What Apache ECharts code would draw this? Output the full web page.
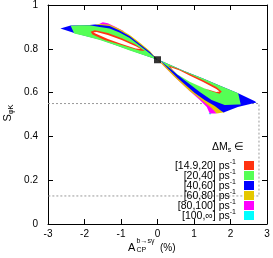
<!DOCTYPE html>
<html><head><meta charset="utf-8">
<script src="https://cdn.jsdelivr.net/npm/echarts@6/dist/echarts.min.js"></script>
<style>html,body{margin:0;padding:0;background:#fff}#c{width:273px;height:258px}</style>
</head><body><div id="c"></div>
<script>
// ---- data (A_CP in %, S_phiK) ----
const legendLabels = ['[14.9,20]', '[20,40]', '[40,60]', '[60,80]', '[80,100]', '[100,\u221e]'];
const bandColors = ['#ff3311', '#55ff55', '#0000ff', '#e5c800', '#ff00ff', '#00ffff'];
const xTickValues = [-3, -2, -1, 0, 1, 2, 3];
const yTickLabels = ['0', '0.2', '0.4', '0.6', '0.8', '1'];

// [100,inf] region (tiny sliver at lower tip)
const cyanLower = [[1.40,0.507],[1.44,0.499],[1.48,0.507]];
// [80,100]
const magentaUpper = [[-1.63,0.911],[-1.50,0.921],[-1.36,0.917],[-1.17,0.902],[-1.04,0.890],[-0.90,0.879],[-1.04,0.880],[-1.31,0.900],[-1.58,0.906]];
const magentaLower = [[0,0.75],[0.47,0.671],[0.88,0.607],[1.16,0.566],[1.35,0.534],[1.43,0.505],[1.62,0.505],[1.48,0.539],[1.02,0.603],[0.33,0.703]];
// [60,80]
const yellowUpper = [[-1.72,0.910],[-1.58,0.913],[-1.31,0.910],[-1.04,0.890],[-0.76,0.863],[-0.49,0.829],[-0.21,0.790],[0,0.75],[-0.21,0.781],[-0.76,0.852],[-1.31,0.900],[-1.67,0.904]];
const yellowLower = [[0,0.75],[0.47,0.671],[0.88,0.607],[1.05,0.587],[1.24,0.562],[1.48,0.530],[1.62,0.505],[1.84,0.510],[1.70,0.539],[1.02,0.612],[0.33,0.712]];
// [40,60]
const blueUpper = [[-2.66,0.893],[-2.38,0.906],[-1.86,0.909],[-1.72,0.911],[-1.58,0.909],[-1.31,0.904],[-1.04,0.884],[-0.76,0.857],[-0.49,0.822],[-0.21,0.785],[0,0.75],[-0.35,0.771],[-0.76,0.794],[-1.17,0.819],[-1.58,0.842],[-1.99,0.860],[-2.28,0.872]];
const blueLower = [[0,0.75],[0.06,0.748],[0.55,0.667],[1.02,0.598],[1.29,0.566],[1.57,0.539],[1.73,0.518],[1.81,0.509],[2.20,0.534],[2.71,0.555],[2.67,0.560],[2.21,0.597],[1.70,0.632],[1.25,0.664],[0.70,0.701],[0.11,0.744]];
// [20,40]
const greenUpper = [[-2.38,0.905],[-2.13,0.907],[-1.86,0.907],[-1.58,0.900],[-1.31,0.893],[-1.04,0.874],[-0.76,0.849],[-0.49,0.815],[-0.21,0.779],[0,0.75],[-0.35,0.769],[-0.76,0.792],[-1.17,0.817],[-1.58,0.840],[-1.99,0.858],[-2.28,0.870]];
const greenLower = [[0,0.75],[0.09,0.744],[0.66,0.667],[1.16,0.603],[1.48,0.566],[1.84,0.543],[2.20,0.546],[2.28,0.546],[2.21,0.597],[1.70,0.632],[1.25,0.664],[0.70,0.701],[0.11,0.744]];
// [14.9,20] (ring)
const redUpper = [[-1.83,0.878],[-1.72,0.885],[-1.36,0.872],[-0.98,0.848],[-0.62,0.821],[-0.42,0.798],[-0.35,0.790],[-0.49,0.792],[-0.98,0.817],[-1.45,0.840],[-1.78,0.865]];
const redLower = [[0.29,0.724],[0.52,0.711],[0.88,0.685],[1.25,0.656],[1.61,0.626],[1.76,0.605],[1.70,0.595],[1.43,0.610],[1.07,0.637],[0.70,0.669],[0.42,0.701]];
// excluded interior
const holeUpper = [[-1.76,0.874],[-1.67,0.877],[-1.36,0.863],[-0.98,0.840],[-0.58,0.810],[-0.46,0.799],[-0.60,0.801],[-0.98,0.822],[-1.36,0.845],[-1.67,0.868]];
const holeLower = [[0.36,0.716],[0.61,0.701],[0.88,0.678],[1.25,0.648],[1.61,0.617],[1.70,0.605],[1.61,0.603],[1.29,0.619],[0.88,0.649],[0.55,0.683],[0.42,0.703]];

const thresholdPath = [[-3,0.55],[2.78,0.55],[2.78,0.128],[-3,0.128]];
const smPoint = [[0, 0.75]];

const FONT = 'Liberation Sans';

function polySeries(name, color, polys, z) {
  return {
    type: 'custom', name: name, silent: true, z: z,
    itemStyle: { color: color },
    data: polys.map(p => [p[0][0], p[0][1]]),
    renderItem: function (params, api) {
      const pts = polys[params.dataIndex].map(p => api.coord(p));
      return { type: 'polygon', shape: { points: pts }, style: { fill: color, stroke: null } };
    }
  };
}

const axisCommon = {
  type: 'value',
  axisLine: { show: true, onZero: false, lineStyle: { color: '#000', width: 1 } },
  axisTick: { show: true, inside: true, length: 5, lineStyle: { color: '#000', width: 1 } },
  splitLine: { show: false }
};

const chart = echarts.init(document.getElementById('c'), null, { renderer: 'canvas' });
chart.setOption({
  animation: false,
  backgroundColor: '#fff',
  grid: { left: 48, right: 6, top: 5, bottom: 34, containLabel: false },
  xAxis: [
    Object.assign({}, axisCommon, { position: 'bottom', min: -3, max: 3, interval: 1,
      axisLabel: { color: '#000', fontSize: 10, fontFamily: FONT, margin: 5,
        formatter: v => xTickValues.indexOf(v) >= 0 ? String(v) : '' } }),
    Object.assign({}, axisCommon, { position: 'top', min: -3, max: 3, interval: 1, axisLabel: { show: false } })
  ],
  yAxis: [
    Object.assign({}, axisCommon, { position: 'left', min: 0, max: 1, interval: 0.2,
      axisLabel: { color: '#000', fontSize: 10, fontFamily: FONT, margin: 10,
        formatter: v => yTickLabels[Math.round(v / 0.2)] } }),
    Object.assign({}, axisCommon, { position: 'right', min: 0, max: 1, interval: 0.2, axisLabel: { show: false } })
  ],
  legend: {
    orient: 'vertical', right: 14, top: 154, align: 'right',
    itemWidth: 10, itemHeight: 9, itemGap: -3, icon: 'rect',
    selectedMode: false,
    data: legendLabels,
    formatter: n => '{t|' + n + ' ps}{s|-1}',
    textStyle: {
      color: '#000', fontFamily: FONT, fontSize: 10,
      rich: {
        t: { fontSize: 10.5, fontFamily: FONT, color: '#000', lineHeight: 13, verticalAlign: 'bottom' },
        s: { fontSize: 7, fontFamily: FONT, color: '#000', lineHeight: 13, verticalAlign: 'top', padding: [0, 3, 0, 0] }
      }
    }
  },
  graphic: [
    { type: 'text', left: 212, top: 142, silent: true,
      style: { text: '{a|\u0394M}{b|s}{a| \u2208}', fontFamily: FONT,
        rich: { a: { fontSize: 10.5, fontFamily: FONT, fill: '#000', lineHeight: 12, verticalAlign: 'top' },
                b: { fontSize: 7, fontFamily: FONT, fill: '#000', lineHeight: 12, verticalAlign: 'bottom' } } } },
    { type: 'text', x: 128, y: 242, silent: true, style: { text: 'A', fontSize: 11, fontFamily: FONT, fill: '#000' } },
    { type: 'text', x: 136.5, y: 238, silent: true, style: { text: 'b\u2192s\u03b3', fontSize: 7, fontFamily: FONT, fill: '#000' } },
    { type: 'text', x: 136.5, y: 247, silent: true, style: { text: 'CP', fontSize: 7, fontFamily: FONT, fill: '#000' } },
    { type: 'text', x: 160, y: 243, silent: true, style: { text: '(%)', fontSize: 10, fontFamily: FONT, fill: '#000' } },
    { type: 'text', x: 8, y: 113, rotation: Math.PI / 2, silent: true,
      style: { text: '{a|S}{b|\u03c6K}', align: 'center', verticalAlign: 'middle', fontFamily: FONT,
        rich: { a: { fontSize: 11, fontFamily: FONT, fill: '#000', lineHeight: 14 },
                b: { fontSize: 7.5, fontFamily: FONT, fill: '#000', lineHeight: 14, verticalAlign: 'bottom' } } } }
  ],
  series: [
    { type: 'line', data: thresholdPath, symbol: 'none', silent: true, z: 1,
      lineStyle: { color: '#999', width: 1, type: [2, 2] } },
    polySeries(legendLabels[5], bandColors[5], [cyanLower], 2),
    polySeries(legendLabels[4], bandColors[4], [magentaUpper, magentaLower], 3),
    polySeries(legendLabels[3], bandColors[3], [yellowUpper, yellowLower], 4),
    polySeries(legendLabels[2], bandColors[2], [blueUpper, blueLower], 5),
    polySeries(legendLabels[1], bandColors[1], [greenUpper, greenLower], 6),
    polySeries(legendLabels[0], bandColors[0], [redUpper, redLower], 7),
    polySeries('hole', '#ffffff', [holeUpper, holeLower], 8),
    { type: 'scatter', data: smPoint, symbol: 'rect', symbolSize: 7, silent: true, z: 10,
      itemStyle: { color: '#000' } }
  ]
});
</script></body></html>
